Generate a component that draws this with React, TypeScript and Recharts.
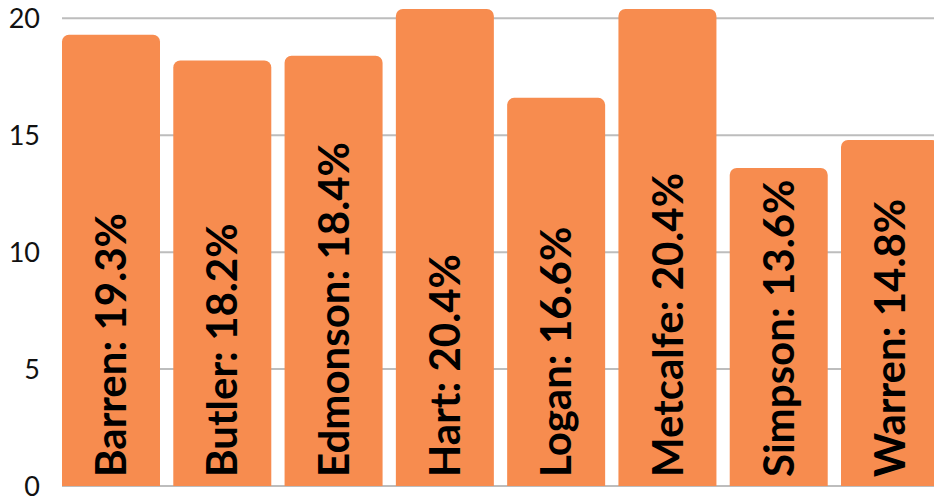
import { BarChart, Bar, XAxis, YAxis, CartesianGrid, LabelList } from 'recharts';

const counties = ['Barren', 'Butler', 'Edmonson', 'Hart', 'Logan', 'Metcalfe', 'Simpson', 'Warren'];
const rates = [19.3, 18.2, 18.4, 20.4, 16.6, 20.4, 13.6, 14.8];
const yTicks = [0, 5, 10, 15, 20];
const yMax = 20.4;

const data = counties.map((name, i) => ({ name, value: rates[i] }));

const BarLabel = (props: any) => {
    const { x, y, width, height, index } = props;
    const cx = x + width / 2;
    const bottom = y + height - 9;
    return (
        <text
            x={cx}
            y={bottom}
            transform={`rotate(-90 ${cx} ${bottom})`}
            dy="0.36em"
            textAnchor="start"
            fontFamily="Lato"
            fontWeight={700}
            fontSize={42}
            fill="#000"
        >
            {`${counties[index]}: ${rates[index]}%`}
        </text>
    );
};

// grid lines only at the labelled ticks, not at the top of the domain
const gridLines = ({ offset }: any) =>
    yTicks.map((t) => offset.top + offset.height * (1 - t / yMax));

const App = () => (
    <div style={{ position: 'absolute', left: 0, top: 0, width: 934, height: 497, overflow: 'hidden' }}>
        <BarChart
            width={934}
            height={497}
            data={data}
            margin={{ top: 9, right: 0, bottom: 11, left: 8 }}
            barCategoryGap={6.6}
        >
            <CartesianGrid
                vertical={false}
                stroke="#bdbdbd"
                strokeWidth={2}
                horizontalCoordinatesGenerator={gridLines}
            />
            <XAxis
                dataKey="name"
                height={0}
                tick={false}
                tickLine={false}
                axisLine={{ stroke: '#808080', strokeWidth: 2 }}
                padding={{ left: -6.6, right: -11.7 }}
            />
            <YAxis
                width={54}
                domain={[0, yMax]}
                ticks={yTicks}
                interval={0}
                tickLine={false}
                axisLine={false}
                tickMargin={16}
                tick={{ fontFamily: 'Lato', fontSize: 27, fill: '#111' }}
            />
            <Bar dataKey="value" fill="#F78C4F" radius={[7, 7, 0, 0]} isAnimationActive={false}>
                <LabelList dataKey="value" content={BarLabel} />
            </Bar>
        </BarChart>
    </div>
);

export default App;
